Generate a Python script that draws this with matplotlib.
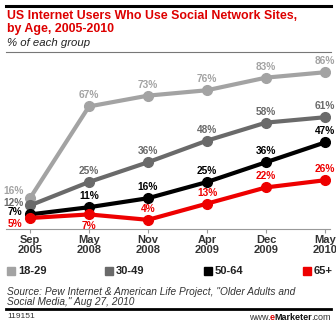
import matplotlib
matplotlib.use("Agg")
import matplotlib.pyplot as plt
from matplotlib.patches import Rectangle
from matplotlib.lines import Line2D
from matplotlib.font_manager import FontProperties

# data
periods = ["Sep\n2005", "May\n2008", "Nov\n2008", "Apr\n2009", "Dec\n2009", "May\n2010"]
groups = ["18-29", "30-49", "50-64", "65+"]
age_18_29 = [16, 67, 73, 76, 83, 86]
age_30_49 = [12, 25, 36, 48, 58, 61]
age_50_64 = [7, 11, 16, 25, 36, 47]
age_65_up = [5, 7, 4, 13, 22, 26]
source_note = ('Source: Pew Internet & American Life Project, "Older Adults and\n'
               'Social Media," Aug 27, 2010')
chart_id = "119151"

series = [age_18_29, age_30_49, age_50_64, age_65_up]
colors = ["#a3a3a3", "#6a6a6a", "#000000", "#ee0000"]

W, H = 336, 324
fig = plt.figure(figsize=(W / 100, H / 100), dpi=100)
fig.patch.set_facecolor("white")


def fx(px):
    return px / W


def fy(py):
    return 1 - py / H


# header
fig.add_artist(Line2D([fx(6), fx(331)], [fy(6), fy(6)], color="black", lw=2.2))
fig.text(fx(7), fy(10), "US Internet Users Who Use Social Network Sites,\nby Age, 2005-2010",
         color="#dd0000", fontsize=8.9, fontweight="bold", family="Liberation Sans",
         va="top", ha="left", linespacing=1.1)
fig.text(fx(7), fy(43), "% of each group", color="#222222", fontsize=8.2,
         style="italic", family="Liberation Sans", va="center", ha="left")
fig.add_artist(Line2D([fx(6), fx(331)], [fy(52), fy(52)], color="#777777", lw=0.8))

# plot area
ax = fig.add_axes([fx(6), fy(229), fx(330) - fx(6), fy(60) - fy(229)])
x = list(range(len(periods)))
for vals, c in zip(series, colors):
    ax.plot(x, vals, color=c, lw=3, marker="o", markersize=7, solid_capstyle="round",
            zorder=3)

# value labels: offsets (dx, dy) in points
offsets = {
    0: [(-12, 5.5), (0, 8), (0, 8), (0, 8), (0, 8), (0, 8)],
    1: [(-12, 2), (0, 8), (0, 8), (0, 8), (0, 8), (0, 8)],
    2: [(-11, 1.5), (0, 8), (0, 8), (0, 8), (0, 8), (0, 8)],
    3: [(-11, -4.5), (0, -8), (0, 8), (0, 8), (0, 8), (0, 8)],
}
for si, (vals, c) in enumerate(zip(series, colors)):
    for i, v in enumerate(vals):
        dx, dy = offsets[si][i]
        ax.annotate(f"{v}%", (i, v), xytext=(dx, dy), textcoords="offset points",
                    ha="center", va="center", color=c, fontsize=7.3,
                    fontweight="bold", family="Liberation Sans", zorder=4)

ax.set_xlim(-24 / 59, 5 + 5 / 59)
ax.set_ylim(-1.1, 92.8)
ax.set_xticks(x)
ax.set_xticklabels(periods, fontsize=8, fontweight="bold", family="Liberation Sans",
                   color="#333333", linespacing=1.0)
ax.tick_params(axis="x", length=3, color="#999999", pad=1)
ax.set_yticks([])
for s in ["top", "right", "left"]:
    ax.spines[s].set_visible(False)
ax.spines["bottom"].set_color("#999999")
ax.spines["bottom"].set_linewidth(0.8)
ax.patch.set_alpha(0)

# legend
leg_x = [7, 105, 204, 303]
for lx, g, c in zip(leg_x, groups, colors):
    fig.add_artist(Rectangle((fx(lx), fy(275)), fx(8), fy(267) - fy(275),
                             color=c, transform=fig.transFigure))
    fig.text(fx(lx + 11), fy(271), g, fontsize=8, fontweight="bold",
             family="Liberation Sans", color="#222222", va="center", ha="left")

# source
fig.text(fx(7), fy(297), source_note, fontsize=7.3, style="italic",
         family="Liberation Sans", color="#333333", va="center", ha="left",
         linespacing=1.05)
fig.add_artist(Line2D([fx(6), fx(331)], [fy(309), fy(309)], color="black", lw=2))
fig.text(fx(7), fy(317), chart_id, fontsize=6, family="Liberation Sans",
         color="#333333", va="center", ha="left")

# www.eMarketer.com, placed left to right after measuring
pieces = [("www.", "normal", "#333333"), ("e", "bold", "#dd0000"),
          ("Marketer", "bold", "#111111"), (".com", "normal", "#333333")]
fig.canvas.draw()
renderer = fig.canvas.get_renderer()
widths = []
for txt, wt, c in pieces:
    fp = FontProperties(family="Liberation Sans", weight=wt, size=6.5)
    w, h, d = renderer.get_text_width_height_descent(txt, fp, ismath=False)
    widths.append(w - 0.7)
left = 330 - sum(widths)
for (txt, wt, c), w in zip(pieces, widths):
    fig.text(fx(left), fy(317), txt, fontsize=6.5, fontweight=wt,
             family="Liberation Sans", color=c, va="center", ha="left")
    left += w

fig.savefig("out.png", dpi=100)
